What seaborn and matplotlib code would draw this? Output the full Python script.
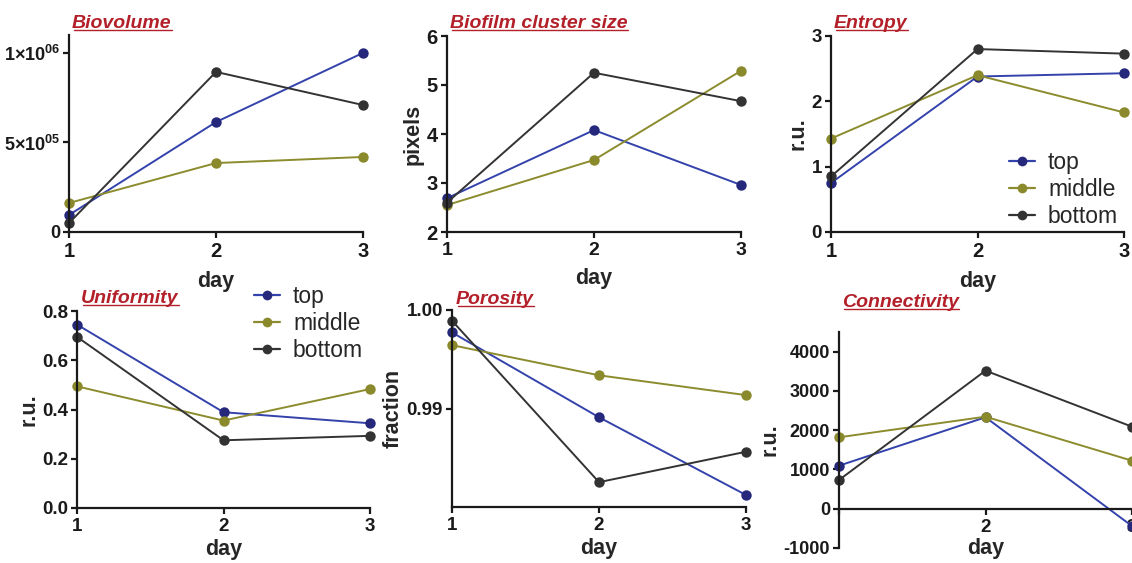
import matplotlib
matplotlib.use("Agg")
import matplotlib.pyplot as plt
from matplotlib.lines import Line2D
import numpy as np
import pandas as pd
import seaborn as sns

# ---------------- data ----------------
days = [1, 2, 3]
groups = ["top", "middle", "bottom"]

biovolume_top = [95000, 614000, 1000000]
biovolume_middle = [162000, 385000, 419000]
biovolume_bottom = [50000, 894000, 709000]

cluster_top = [2.69, 4.08, 2.96]
cluster_middle = [2.55, 3.47, 5.29]
cluster_bottom = [2.60, 5.25, 4.67]

entropy_top = [0.75, 2.38, 2.43]
entropy_middle = [1.43, 2.40, 1.83]
entropy_bottom = [0.85, 2.80, 2.73]

uniformity_top = [0.745, 0.389, 0.344]
uniformity_middle = [0.494, 0.355, 0.483]
uniformity_bottom = [0.695, 0.275, 0.293]

porosity_top = [0.99772, 0.98911, 0.98122]
porosity_middle = [0.99643, 0.99337, 0.99136]
porosity_bottom = [0.99891, 0.98252, 0.98561]

connectivity_top = [1096, 2329, -441]
connectivity_middle = [1819, 2344, 1223]
connectivity_bottom = [731, 3516, 2089]

titles = ["Biovolume", "Biofilm cluster size", "Entropy",
          "Uniformity", "Porosity", "Connectivity"]
ylabels = ["", "pixels", "r.u.", "r.u.", "fraction", "r.u."]
xlabel = "day"

line_colors = {"top": "#3442ac", "middle": "#8c8c2e", "bottom": "#333333"}
marker_colors = {"top": "#26287c", "middle": "#8a8a2c", "bottom": "#333333"}
title_color = "#b3202a"

# ---------------- style ----------------
sns.set_theme(style="ticks")
plt.rcParams["font.family"] = ["Liberation Sans", "DejaVu Sans"]
plt.rcParams["mathtext.fontset"] = "custom"
plt.rcParams["mathtext.rm"] = "Liberation Sans:bold"
plt.rcParams["mathtext.bf"] = "Liberation Sans:bold"
plt.rcParams["axes.unicode_minus"] = False
plt.rcParams["axes.linewidth"] = 1.6
plt.rcParams["xtick.major.width"] = 1.6
plt.rcParams["ytick.major.width"] = 1.6
plt.rcParams["xtick.major.size"] = 4.5
plt.rcParams["ytick.major.size"] = 4.5
plt.rcParams["axes.edgecolor"] = "#1a1a1a"

W, H = 1132, 563
fig = plt.figure(figsize=(W / 100, H / 100), dpi=100)


def px_axes(x0, x1, ytop, ybot):
    return fig.add_axes([x0 / W, 1 - ybot / H, (x1 - x0) / W, (ybot - ytop) / H])


def make_df(t, m, b):
    rows = []
    for g, vals in zip(groups, [t, m, b]):
        for d, v in zip(days, vals):
            rows.append({"day": d, "group": g, "value": v})
    return pd.DataFrame(rows)


panels = [
    dict(data=(biovolume_top, biovolume_middle, biovolume_bottom),
         box=(69, 363, 35, 232), ylim=(0, 1.1e6), yticks=[0, 5e5, 1e6],
         yticklabels=["0", "5×10$^{05}$", "1×10$^{06}$"],
         xts=14.5, yts=13, title_xy=(72, 28), xlp=7),
    dict(data=(cluster_top, cluster_middle, cluster_bottom),
         box=(447, 741, 36, 232), ylim=(2, 6), yticks=[2, 3, 4, 5, 6],
         yticklabels=None, xts=14, yts=14.5, title_xy=(450, 28), xlp=6),
    dict(data=(entropy_top, entropy_middle, entropy_bottom),
         box=(831, 1124, 36, 232), ylim=(0, 3), yticks=[0, 1, 2, 3],
         yticklabels=None, xts=14.5, yts=13.5, title_xy=(834, 28), xlp=7),
    dict(data=(uniformity_top, uniformity_middle, uniformity_bottom),
         box=(77, 370, 311, 508), ylim=(0, 0.8), yticks=[0, 0.2, 0.4, 0.6, 0.8],
         yticklabels=["0.0", "0.2", "0.4", "0.6", "0.8"], xts=13.5, yts=13.5,
         title_xy=(81, 303), xlp=2.5),
    dict(data=(porosity_top, porosity_middle, porosity_bottom),
         box=(452, 746, 310, 507), ylim=(0.98, 1.0), yticks=[0.99, 1.0],
         yticklabels=["0.99", "1.00"], xts=13.5, yts=13.5, title_xy=(456, 304),
         xlp=2.5),
    dict(data=(connectivity_top, connectivity_middle, connectivity_bottom),
         box=(839, 1132, 332, 548), ylim=(-1000, 4500),
         yticks=[-1000, 0, 1000, 2000, 3000, 4000], yticklabels=None,
         xts=13.5, yts=13, title_xy=(842, 307), xlp=1.5),
]

title_texts = []
for i, p in enumerate(panels):
    ax = px_axes(*p["box"])
    df = make_df(*p["data"])
    sns.lineplot(data=df, x="day", y="value", hue="group", hue_order=groups,
                 palette=line_colors, marker="o", markersize=7.5,
                 markeredgewidth=0, linewidth=1.4, legend=False, ax=ax)
    for line, g in zip(ax.lines, groups):
        line.set_markerfacecolor(marker_colors[g])
        line.set_clip_on(False)
    sns.despine(ax=ax)
    ax.set_xlim(1, 3)
    ax.set_ylim(*p["ylim"])
    ax.set_xticks(days)
    if i == 5:
        ax.spines["bottom"].set_position(("data", 0))
        ax.set_xticklabels(["", "2", "3"])
    else:
        ax.set_xticklabels([str(d) for d in days])
    ax.set_yticks(p["yticks"])
    if p["yticklabels"] is not None:
        ax.set_yticklabels(p["yticklabels"])
    ax.tick_params(axis="x", labelsize=p["xts"], pad=3, colors="#1a1a1a")
    ax.tick_params(axis="y", labelsize=p["yts"], pad=2, colors="#1a1a1a")
    for lab in ax.get_xticklabels() + ax.get_yticklabels():
        lab.set_fontweight("bold")
    ax.set_xlabel(xlabel, fontsize=15.5, fontweight="bold", labelpad=p["xlp"])
    ax.set_ylabel(ylabels[i], fontsize=15.5, fontweight="bold", labelpad=2)
    tx, ty = p["title_xy"]
    t = fig.text(tx / W, 1 - ty / H, titles[i], fontsize=14, fontweight="bold",
                 fontstyle="italic", color=title_color, ha="left", va="baseline")
    title_texts.append((t, ty))

# legends
handles = [Line2D([], [], color=line_colors[g], marker="o", markersize=7,
                  markerfacecolor=marker_colors[g], markeredgewidth=0,
                  linewidth=1.6) for g in groups]
for (lx, ly) in [(238 / W, 1 - 269 / H), (993 / W, 1 - 135 / H)]:
    fig.legend(handles, groups, loc="upper left", bbox_to_anchor=(lx, ly),
               frameon=False, fontsize=16.5, handlelength=1.15,
               handletextpad=0.55, labelspacing=0.18, borderpad=0.2)

# underline titles
fig.canvas.draw()
renderer = fig.canvas.get_renderer()
for t, ty in title_texts:
    bb = t.get_window_extent(renderer)
    yline = 1 - (ty + 2) / H
    fig.add_artist(Line2D([bb.x0 / W + 0.002, bb.x1 / W], [yline, yline],
                          transform=fig.transFigure, color=title_color,
                          linewidth=1.0))

fig.savefig("out.png", dpi=100)
